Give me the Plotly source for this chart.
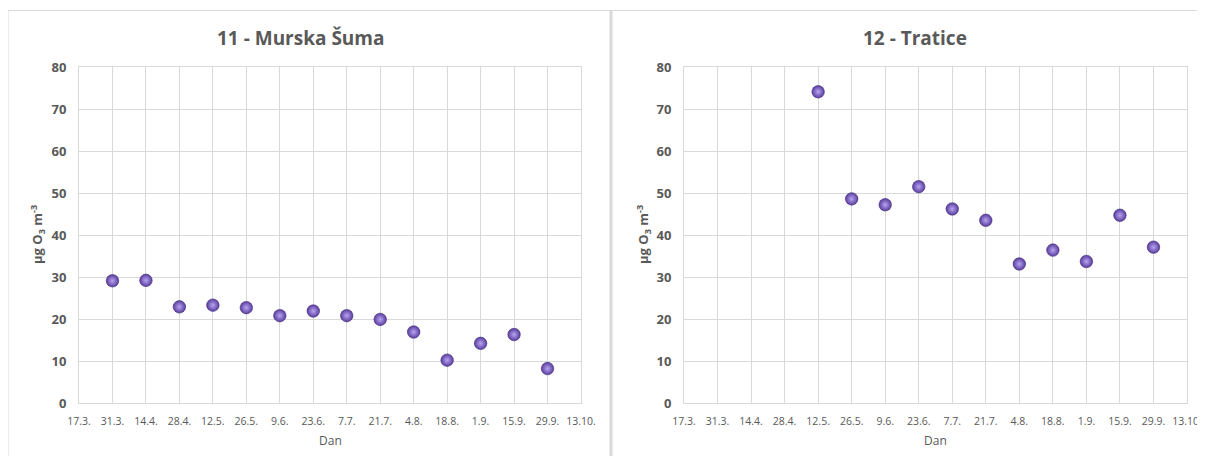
import plotly.graph_objects as go

# ---- data ----
tick0 = "2021-03-17"
tick_end = "2021-10-13"

left_title = "11 - Murska Šuma"
left_dates = ["2021-03-31", "2021-04-14", "2021-04-28", "2021-05-12", "2021-05-26",
              "2021-06-09", "2021-06-23", "2021-07-07", "2021-07-21", "2021-08-04",
              "2021-08-18", "2021-09-01", "2021-09-15", "2021-09-29"]
left_values = [29.1, 29.2, 22.9, 23.3, 22.7, 20.8, 21.9, 20.8, 19.9, 16.9, 10.2, 14.2, 16.3, 8.2]

right_title = "12 - Tratice"
right_dates = ["2021-05-12", "2021-05-26", "2021-06-09", "2021-06-23", "2021-07-07",
               "2021-07-21", "2021-08-04", "2021-08-18", "2021-09-01", "2021-09-15",
               "2021-09-29"]
right_values = [74.1, 48.6, 47.2, 51.5, 46.2, 43.5, 33.1, 36.4, 33.7, 44.7, 37.1]

y_title = "<b>µg O<sub>3</sub> m<sup>-3</sup></b>"
x_title = "Dan"

OFF = 8  # page body margin
W, H = 1205 - OFF, 456 - OFF
FONT = "Segoe UI, Open Sans, Noto Sans, sans-serif"
GRAY = "#595959"
GRID = "#d9d9d9"

marker = dict(size=12.5, color="#5b3d9e",
              gradient=dict(type="radial", color="#b7a5f2"),
              line=dict(width=0.6, color="#3d2878"))

fig = go.Figure()
fig.add_trace(go.Scatter(x=left_dates, y=left_values, mode="markers", marker=marker,
                         xaxis="x", yaxis="y", showlegend=False, cliponaxis=False))
fig.add_trace(go.Scatter(x=right_dates, y=right_values, mode="markers", marker=marker,
                         xaxis="x2", yaxis="y2", showlegend=False, cliponaxis=False))

def px(v):
    return (v - OFF) / W

def py(v):
    return 1 - (v - OFF) / H

ydom = [py(403), py(67)]

xcommon = dict(type="date", range=[tick0, tick_end], tick0=tick0, dtick=14 * 86400000,
               tickformat="%-d.%-m.", showgrid=True, gridcolor=GRID, gridwidth=1,
               showline=True, linecolor=GRID, mirror=True, zeroline=False,
               ticks="", ticklabelstandoff=8, automargin=False,
               tickfont=dict(family=FONT, size=10.5, color=GRAY))
ycommon = dict(range=[0, 80], dtick=10, showgrid=True, gridcolor=GRID, gridwidth=1,
               showline=True, linecolor=GRID, mirror=True, zeroline=False, ticks="",
               ticklabelstandoff=9, automargin=False,
               tickfont=dict(family=FONT, size=13, color=GRAY, weight="bold"))

fig.update_layout(
    template="none",
    width=W, height=H, margin=dict(l=0, r=0, t=0, b=0, autoexpand=False),
    paper_bgcolor="white", plot_bgcolor="white",
    xaxis=dict(domain=[px(79), px(581)], anchor="y", **xcommon),
    yaxis=dict(domain=ydom, anchor="x", **ycommon),
    xaxis2=dict(domain=[px(684), px(1187)], anchor="y2", **xcommon),
    yaxis2=dict(domain=ydom, anchor="x2", **ycommon),
)

annots = []
for cx, title, ytx, dx in [(300, left_title, 37, 330), (915, right_title, 643, 935)]:
    annots.append(dict(x=px(cx), y=py(38), xref="paper", yref="paper", text=f"<b>{title}</b>",
                       xanchor="center", yanchor="middle",
                       showarrow=False, font=dict(family=FONT, size=19, color=GRAY)))
    annots.append(dict(x=px(ytx), y=py(235), xref="paper", yref="paper", text=y_title,
                       xanchor="center", yanchor="middle",
                       textangle=-90, showarrow=False, font=dict(family=FONT, size=13, color=GRAY)))
    annots.append(dict(x=px(dx), y=py(440), xref="paper", yref="paper", text=x_title,
                       xanchor="center", yanchor="middle",
                       showarrow=False, font=dict(family=FONT, size=12, color=GRAY)))
fig.update_layout(annotations=annots)

shapes = [
    dict(type="line", xref="paper", yref="paper", x0=px(7), x1=1, y0=py(10.5), y1=py(10.5),
         line=dict(color="#d9d9d9", width=1)),
    dict(type="line", xref="paper", yref="paper", x0=px(8), x1=px(8), y0=py(10.5), y1=0,
         line=dict(color="#d9d9d9", width=1)),
    dict(type="line", xref="paper", yref="paper", x0=px(611), x1=px(611), y0=py(10.5), y1=0,
         line=dict(color="#d9d9d9", width=3)),
]
fig.update_layout(shapes=shapes)

fig.write_html("out.html")
